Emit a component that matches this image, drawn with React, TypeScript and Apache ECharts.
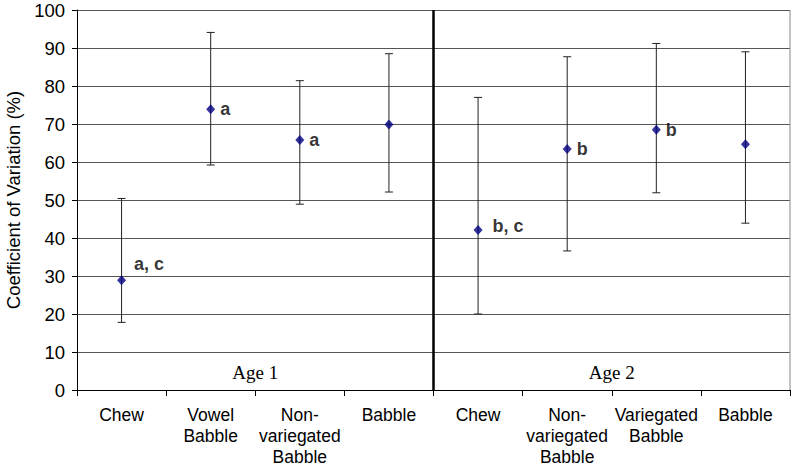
import React, { useEffect, useRef } from "react";
import * as echarts from "echarts";

const categories = [
  "Chew",
  "Vowel\nBabble",
  "Non-\nvariegated\nBabble",
  "Babble",
  "Chew",
  "Non-\nvariegated\nBabble",
  "Variegated\nBabble",
  "Babble",
];
const means = [28.9, 73.9, 65.8, 69.9, 42.1, 63.4, 68.5, 64.7];
const upper = [50.4, 94.1, 81.4, 88.5, 77.0, 87.7, 91.2, 89.0];
const lower = [17.8, 59.2, 48.9, 52.1, 20.0, 36.6, 51.9, 43.9];
const letters = ["a, c", "a", "a", "", "b, c", "b", "b", ""];
const groups = ["Age 1", "Age 2"];
const yTicks = { min: 0, max: 100, interval: 10 };

const labelOffsets: Record<number, number[]> = {
  0: [3, -16],
  4: [5, -4],
};

export default function App() {
  const ref = useRef<HTMLDivElement>(null);
  useEffect(() => {
    if (!ref.current) return;
    const chart = echarts.init(ref.current, null, { renderer: "svg" });
    const font = "'Liberation Sans', Arial, sans-serif";
    const option: any = {
      animation: false,
      grid: { left: 77, right: 10, top: 10, bottom: 84, containLabel: false, outerBoundsMode: "none" },
      xAxis: {
        type: "category",
        data: categories,
        boundaryGap: true,
        axisLine: { lineStyle: { color: "#000", width: 1 } },
        axisTick: { show: true, length: 6, lineStyle: { color: "#000" } },
        axisLabel: {
          interval: 0,
          color: "#000",
          fontFamily: font,
          fontSize: 17.5,
          lineHeight: 21,
          margin: 14,
          verticalAlign: "top",
        },
        splitLine: { show: false },
      },
      yAxis: {
        type: "value",
        min: yTicks.min,
        max: yTicks.max,
        interval: yTicks.interval,
        name: "Coefficient of Variation (%)",
        nameLocation: "middle",
        nameGap: 53,
        nameTextStyle: { color: "#000", fontFamily: font, fontSize: 18.5 },
        axisLine: { show: true, lineStyle: { color: "#000", width: 1 } },
        axisTick: { show: true, length: 5, lineStyle: { color: "#000" } },
        axisLabel: { color: "#000", fontFamily: font, fontSize: 18.5, margin: 12 },
        splitLine: { show: true, lineStyle: { color: "#555", width: 1 } },
      },
      series: [
        {
          type: "custom",
          z: 1,
          data: means.map((_, i) => [i, lower[i], upper[i]]),
          renderItem: (params: any, api: any) => {
            const i = api.value(0);
            const lo = api.coord([i, api.value(1)]);
            const hi = api.coord([i, api.value(2)]);
            const hw = 4;
            const style = { stroke: "#222", lineWidth: 1 };
            return {
              type: "group",
              children: [
                { type: "line", shape: { x1: lo[0], y1: lo[1], x2: hi[0], y2: hi[1] }, style },
                { type: "line", shape: { x1: lo[0] - hw, y1: lo[1], x2: lo[0] + hw, y2: lo[1] }, style },
                { type: "line", shape: { x1: hi[0] - hw, y1: hi[1], x2: hi[0] + hw, y2: hi[1] }, style },
              ],
            };
          },
        },
        {
          type: "custom",
          z: 3,
          data: [[0]],
          renderItem: (params: any, api: any) => {
            const bw = api.size([1, 0])[0];
            const top = api.coord([0, yTicks.max])[1];
            const bot = api.coord([0, yTicks.min])[1];
            const xd = api.coord([3, 0])[0] + bw / 2;
            const xr = api.coord([categories.length - 1, 0])[0] + bw / 2;
            return {
              type: "group",
              children: [
                { type: "line", shape: { x1: xd, y1: top, x2: xd, y2: bot }, style: { stroke: "#000", lineWidth: 2.5 } },
                { type: "line", shape: { x1: xr, y1: top, x2: xr, y2: bot }, style: { stroke: "#888", lineWidth: 1 } },
              ],
            };
          },
        },
        {
          type: "custom",
          z: 3,
          data: groups.map((g, i) => [i]),
          renderItem: (params: any, api: any) => {
            const gi = api.value(0);
            const x = (api.coord([gi * 4 + 1, 0])[0] + api.coord([gi * 4 + 2, 0])[0]) / 2;
            const y = api.coord([0, 4.7])[1];
            return {
              type: "text",
              style: {
                text: groups[gi],
                x,
                y,
                align: "center",
                verticalAlign: "middle",
                fontFamily: "'Liberation Serif', 'Times New Roman', serif",
                fontSize: 19,
                fill: "#000",
              },
            };
          },
        },
        {
          type: "scatter",
          z: 5,
          symbol: "diamond",
          symbolSize: [9, 10],
          itemStyle: { color: "#000080" },
          data: means.map((m, i) => ({
            value: [i, m],
            label: {
              show: letters[i] !== "",
              formatter: letters[i],
              position: "right",
              distance: 5,
              offset: labelOffsets[i] || [0, 0],
              color: "#000",
              fontFamily: font,
              fontWeight: "bold",
              fontSize: 18,
            },
          })),
        },
      ],
    };
    chart.setOption(option);
    return () => chart.dispose();
  }, []);
  return <div ref={ref} style={{ position: "absolute", left: 0, top: 0, width: 800, height: 474 }} />;
}
